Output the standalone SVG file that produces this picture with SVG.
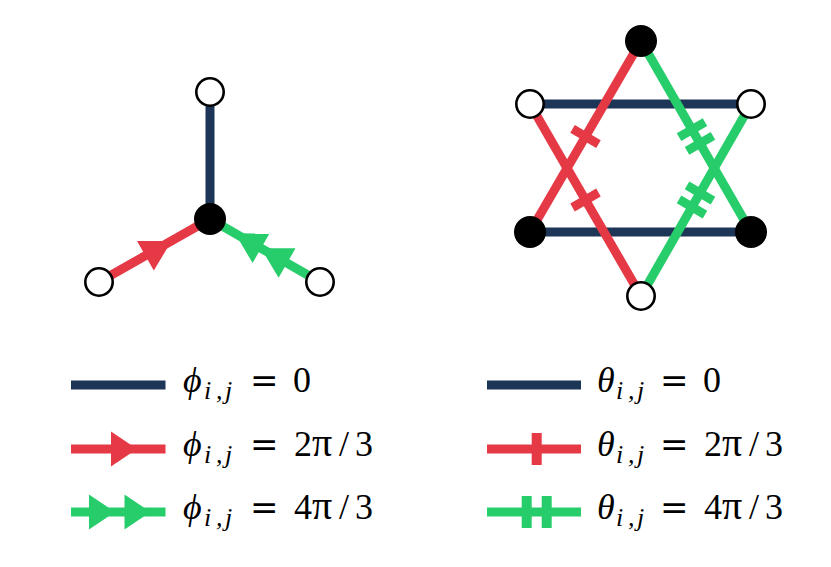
<svg xmlns="http://www.w3.org/2000/svg" xmlns:xlink="http://www.w3.org/1999/xlink" width="831" height="567" viewBox="0 0 831 567">
<style>
.nv{stroke:#1d3557;stroke-width:9;fill:none}
.rd{stroke:#e63946;stroke-width:9;fill:none}
.gr{stroke:#26cd6a;stroke-width:9;fill:none}
.wn{fill:#fff;stroke:#000;stroke-width:2.6}
.bn{fill:#000}
.sym{font-family:"Liberation Serif","DejaVu Serif",serif;font-style:italic;font-size:36px;fill:#000}
.sub{font-family:"Liberation Serif","DejaVu Serif",serif;font-style:italic;font-size:26px;fill:#000}
.eq{font-family:"DejaVu Serif","Liberation Serif",serif;font-size:34px;fill:#000}
.num{font-family:"Liberation Serif","DejaVu Serif",serif;font-size:36px;fill:#000}
.pi{font-family:"Liberation Serif","DejaVu Serif",serif;font-size:40px;fill:#000}
</style>
<defs>
<path id="tri" d="M0,0 L-30,-17 L-30,17 Z"/>
<path id="ltri" d="M0,0 L-26,-17.5 L-26,17.5 Z"/>
<rect id="tick" x="-4.5" y="-15" width="9" height="30"/>
<rect id="ltick" x="-5" y="-16" width="10" height="32"/>
</defs>
<rect width="831" height="567" fill="#fff"/>

<g id="connectors">
<!-- left star -->
<line class="nv" x1="210" y1="92" x2="210" y2="219"/>
<line class="rd" x1="99" y1="282" x2="210" y2="219"/>
<use xlink:href="#tri" href="#tri" fill="#e63946" transform="translate(171.5,241) rotate(-29.6)"/>
<line class="gr" x1="320" y1="282" x2="210" y2="219"/>
<use xlink:href="#tri" href="#tri" fill="#26cd6a" transform="translate(235,233.3) rotate(209.8)"/>
<use xlink:href="#tri" href="#tri" fill="#26cd6a" transform="translate(261,248.2) rotate(209.8)"/>
<!-- right star -->
<line class="nv" x1="530" y1="104" x2="751" y2="104"/>
<line class="nv" x1="530" y1="232" x2="751" y2="232"/>
<line class="rd" x1="641" y1="41" x2="530" y2="232"/>
<line class="rd" x1="530" y1="104" x2="641" y2="296"/>
<use xlink:href="#tick" href="#tick" fill="#e63946" transform="translate(585.5,136.5) rotate(120.2)"/>
<use xlink:href="#tick" href="#tick" fill="#e63946" transform="translate(585.5,200) rotate(60)"/>
<line class="gr" x1="641" y1="41" x2="751" y2="232"/>
<line class="gr" x1="751" y1="104" x2="641" y2="296"/>
<use xlink:href="#tick" href="#tick" fill="#26cd6a" transform="translate(692,129.6) rotate(60)"/>
<use xlink:href="#tick" href="#tick" fill="#26cd6a" transform="translate(700,143.4) rotate(60)"/>
<use xlink:href="#tick" href="#tick" fill="#26cd6a" transform="translate(700,193) rotate(120.2)"/>
<use xlink:href="#tick" href="#tick" fill="#26cd6a" transform="translate(692,207) rotate(120.2)"/>
</g>

<g id="left-center"><circle class="bn" cx="210" cy="219" r="16"/></g>
<g id="left-top"><circle class="wn" cx="210" cy="92" r="13.7"/></g>
<g id="left-bl"><circle class="wn" cx="99" cy="282" r="13.7"/></g>
<g id="left-br"><circle class="wn" cx="320" cy="282" r="13.7"/></g>

<g id="hex-top"><circle class="bn" cx="641" cy="41" r="16"/></g>
<g id="hex-ul"><circle class="wn" cx="530" cy="104" r="13.7"/></g>
<g id="hex-ur"><circle class="wn" cx="751" cy="104" r="13.7"/></g>
<g id="hex-ll"><circle class="bn" cx="530" cy="232" r="16"/></g>
<g id="hex-lr"><circle class="bn" cx="751" cy="232" r="16"/></g>
<g id="hex-bottom"><circle class="wn" cx="641" cy="296" r="13.7"/></g>

<g id="legend-left">
<line class="nv" x1="71" y1="385" x2="165.5" y2="385"/>
<line class="rd" x1="71" y1="449" x2="165.5" y2="449"/>
<use xlink:href="#ltri" href="#ltri" fill="#e63946" transform="translate(137,449)"/>
<line class="gr" x1="71" y1="512" x2="165.5" y2="512"/>
<use xlink:href="#ltri" href="#ltri" fill="#26cd6a" transform="translate(115,512)"/>
<use xlink:href="#ltri" href="#ltri" fill="#26cd6a" transform="translate(150.5,512)"/>

<text class="sym" x="183" y="392">ϕ</text><text class="sub" x="204 216 225" y="399">i,j</text>
<text class="eq" x="250" y="392">=</text><text class="num" x="293" y="392">0</text>
<text class="sym" x="183" y="456">ϕ</text><text class="sub" x="204 216 225" y="463">i,j</text>
<text class="eq" x="250" y="456">=</text><text class="num" y="456"><tspan x="294">2</tspan><tspan class="pi" x="312">π</tspan><tspan x="339 355">/3</tspan></text>
<text class="sym" x="183" y="519">ϕ</text><text class="sub" x="204 216 225" y="526">i,j</text>
<text class="eq" x="250" y="519">=</text><text class="num" y="519"><tspan x="294">4</tspan><tspan class="pi" x="312">π</tspan><tspan x="339 355">/3</tspan></text>
</g>

<g id="legend-right">
<line class="nv" x1="487" y1="385" x2="581" y2="385"/>
<line class="rd" x1="487" y1="449" x2="581" y2="449"/>
<use xlink:href="#ltick" href="#ltick" fill="#e63946" transform="translate(536.7,449)"/>
<line class="gr" x1="487" y1="512" x2="581" y2="512"/>
<use xlink:href="#ltick" href="#ltick" fill="#26cd6a" transform="translate(526.7,512)"/>
<use xlink:href="#ltick" href="#ltick" fill="#26cd6a" transform="translate(546.7,512)"/>

<text class="sym" x="597" y="392">θ</text><text class="sub" x="616 628 637" y="399">i,j</text>
<text class="eq" x="660" y="392">=</text><text class="num" x="703" y="392">0</text>
<text class="sym" x="597" y="456">θ</text><text class="sub" x="616 628 637" y="463">i,j</text>
<text class="eq" x="660" y="456">=</text><text class="num" y="456"><tspan x="704">2</tspan><tspan class="pi" x="722">π</tspan><tspan x="749 765">/3</tspan></text>
<text class="sym" x="597" y="519">θ</text><text class="sub" x="616 628 637" y="526">i,j</text>
<text class="eq" x="660" y="519">=</text><text class="num" y="519"><tspan x="704">4</tspan><tspan class="pi" x="722">π</tspan><tspan x="749 765">/3</tspan></text>
</g>
</svg>
